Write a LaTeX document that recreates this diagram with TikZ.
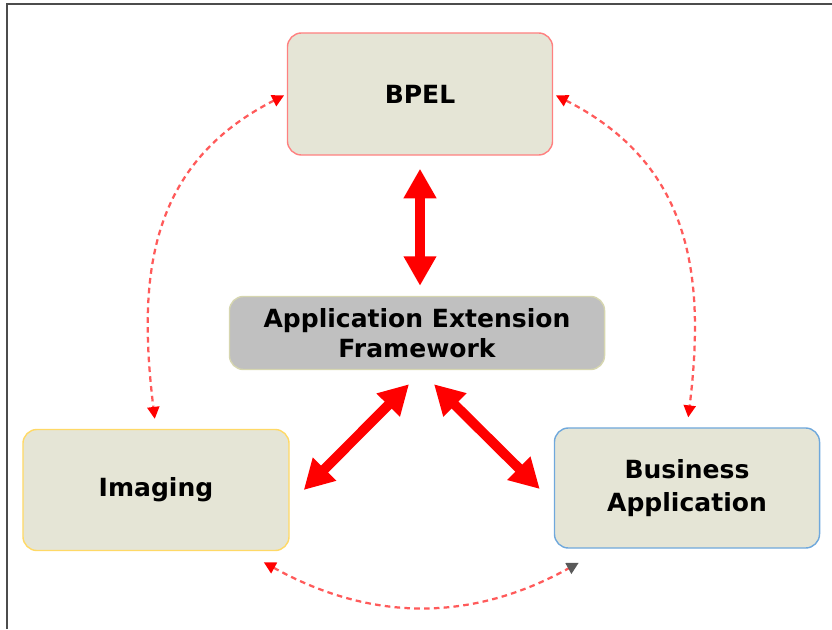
\documentclass[tikz,border=0pt]{standalone}
\usepackage{fontspec}
\setmainfont{DejaVu Sans}
\usetikzlibrary{arrows.meta}
\definecolor{boxfill}{RGB}{229,229,214}
\definecolor{aeffill}{RGB}{192,192,192}
\definecolor{aefline}{RGB}{214,214,176}
\definecolor{bpelline}{RGB}{255,128,128}
\definecolor{imgline}{RGB}{255,217,102}
\definecolor{baline}{RGB}{111,168,220}
\definecolor{dashline}{RGB}{255,90,90}

\begin{document}
\begin{tikzpicture}[x=0.025cm, y=-0.025cm,
    box/.style={rounded corners=0.35cm, fill=boxfill, line width=1pt, minimum width=6.625cm, minimum height=3.05cm, inner sep=0pt, align=center, font=\fontsize{17.8}{24}\selectfont\bfseries},
    bigarrow/.style={{Triangle[length=21pt,width=22pt]}-{Triangle[length=21pt,width=22pt]}, red, line width=7pt},
    dasharrow/.style={{Triangle[length=8.5pt,width=8.5pt,color=red]}-{Triangle[length=8.5pt,width=8.5pt,color=red]}, dashline, dash pattern=on 4pt off 3pt, line width=1.6pt}]
    \useasboundingbox (0,0) rectangle (832,629);
    \draw[gray!60!black, line width=1.4pt] (7,629) -- (7,4) -- (832,4);
    \node[box, draw=bpelline] (bpel) at (420,94) {BPEL};
    \node[box, draw=aefline, fill=aeffill, minimum width=9.375cm, minimum height=1.825cm, font=\fontsize{17.8}{21}\selectfont\bfseries] (aef) at (417,333) {Application Extension\\Framework};
    \node[box, draw=imgline, minimum width=6.65cm, minimum height=3.025cm] (img) at (156,490) {Imaging};
    \node[box, draw=baline, minimum height=3cm] (ba) at (687,488) {Business\\Application};
    \draw[bigarrow, shorten <=0.325cm, shorten >=0.25cm] (bpel.south) -- (bpel.south |- aef.north);
    \draw[bigarrow] ([shift={(-8,14)}]aef.south) -- ([shift={(14,0)}]img.east);
    \draw[bigarrow] ([shift={(17,14)}]aef.south) -- ([shift={(-14,1)}]ba.west);
    \draw[dasharrow, shorten <=0.075cm, shorten >=0.25cm] (bpel.west) to[out=207, in=97, looseness=1.1] (img.north);
    \draw[dasharrow, shorten <=0.075cm, shorten >=0.25cm] (bpel.east) to[out=-27, in=83, looseness=1.1] (ba.north);
    \draw[dasharrow, {Triangle[length=8.5pt,width=8.5pt,color=red]}-{Triangle[length=8.5pt,width=8.5pt,color=gray!70!black]}] ([shift={(-26,11)}]img.south east) to[out=-29, in=209] ([shift={(25,14)}]ba.south west);
\end{tikzpicture}
\end{document}
